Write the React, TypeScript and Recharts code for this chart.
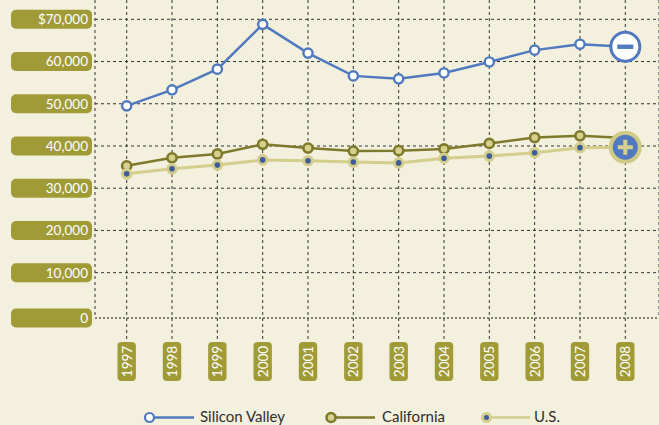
import React from 'react';
import { LineChart, Line, XAxis, YAxis, CartesianGrid, ReferenceLine } from 'recharts';

const years = ['1997', '1998', '1999', '2000', '2001', '2002', '2003', '2004', '2005', '2006', '2007', '2008'];
const siliconValley = [49500, 53300, 58200, 68800, 62000, 56600, 55900, 57300, 59900, 62700, 64100, 63500];
const california = [35300, 37200, 38100, 40400, 39500, 38800, 38900, 39300, 40600, 42000, 42400, 41900];
const us = [33400, 34600, 35500, 36700, 36500, 36200, 36000, 37100, 37600, 38400, 39600, 39700];
const yTicks = [0, 10000, 20000, 30000, 40000, 50000, 60000, 70000];
const yTickLabels = ['0', '10,000', '20,000', '30,000', '40,000', '50,000', '60,000', '$70,000'];
const seriesNames = ['Silicon Valley', 'California', 'U.S.'];

const data = years.map((y, i) => ({ year: y, sv: siliconValley[i], ca: california[i], us: us[i] }));

const BG = '#f3f0de';
const PILL = '#a09b37';
const BLUE = '#5079bf';
const OLIVE = '#7f7a2b';
const OLIVE_LIGHT = '#d6d18f';
const US_LINE = '#d3ce8c';
const US_DOT = '#3d5c99';
const GRID = '#333';
const FONT = 'Lato, "Open Sans", sans-serif';
const PLOT_BOTTOM = 318;

const YTick = (props: any) => {
  const { y, payload } = props;
  const v = payload.value;
  const cy = v === 0 ? PLOT_BOTTOM : y;
  const idx = yTicks.indexOf(v);
  return (
    <g>
      <rect x={11} y={cy - 9.5} width={81} height={19} rx={5} fill={PILL} />
      <text x={88} y={cy} dy="0.36em" textAnchor="end" fill="#fff" fontSize={13.5} fontFamily={FONT}>
        {yTickLabels[idx]}
      </text>
    </g>
  );
};

const XTick = (props: any) => {
  const { x, payload } = props;
  const top = PLOT_BOTTOM + 24;
  const h = 39;
  const cy = top + h / 2;
  return (
    <g>
      <line x1={x} x2={x} y1={PLOT_BOTTOM} y2={top} stroke={GRID} strokeDasharray="3 3" />
      <rect x={x - 9.2} y={top} width={18.4} height={h} rx={4} fill={PILL} />
      <text
        x={x}
        y={cy}
        dy="0.36em"
        textAnchor="middle"
        fill="#fff"
        fontSize={13.5}
        fontFamily={FONT}
        transform={`rotate(-90, ${x}, ${cy})`}
      >
        {payload.value}
      </text>
    </g>
  );
};

const last = years.length - 1;

const svDot = (p: any) => {
  const { cx, cy, index } = p;
  if (index === last) {
    return (
      <g key={`sv-${index}`}>
        <circle cx={cx} cy={cy} r={14.5} fill="#fff" stroke={BLUE} strokeWidth={3} />
        <rect x={cx - 8} y={cy - 2.2} width={16} height={4.4} fill={BLUE} />
      </g>
    );
  }
  return <circle key={`sv-${index}`} cx={cx} cy={cy} r={4.6} fill="#fff" stroke={BLUE} strokeWidth={2.4} />;
};

const caDot = (p: any) => {
  const { cx, cy, index } = p;
  if (index === last) return <g key={`ca-${index}`} />;
  return <circle key={`ca-${index}`} cx={cx} cy={cy} r={4.6} fill={OLIVE_LIGHT} stroke={OLIVE} strokeWidth={2.6} />;
};

const usDot = (p: any) => {
  const { cx, cy, index } = p;
  if (index === last) {
    return (
      <g key={`us-${index}`}>
        <circle cx={cx} cy={cy} r={14.5} fill={BLUE} stroke="#cfca86" strokeWidth={4} />
        <rect x={cx - 7.5} y={cy - 2} width={15} height={4} fill="#d6d18f" />
        <rect x={cx - 2} y={cy - 7.5} width={4} height={15} fill="#d6d18f" />
      </g>
    );
  }
  return <circle key={`us-${index}`} cx={cx} cy={cy} r={4.3} fill={US_DOT} stroke={US_LINE} strokeWidth={3} />;
};

const Legend = () => {
  const items = [
    { name: seriesNames[0], cx: 149.5, lineEnd: 194, tx: 200, line: BLUE, fill: '#fff', stroke: BLUE, r: 4.5, sw: 2.2 },
    { name: seriesNames[1], cx: 331, lineEnd: 375, tx: 382, line: OLIVE, fill: OLIVE_LIGHT, stroke: OLIVE, r: 4.5, sw: 2.6 },
    { name: seriesNames[2], cx: 486.5, lineEnd: 530, tx: 534, line: US_LINE, fill: US_DOT, stroke: US_LINE, r: 4, sw: 3 },
  ];
  return (
    <svg width={659} height={425} style={{ position: 'absolute', left: 0, top: 0, pointerEvents: 'none' }}>
      {items.map((it) => (
        <g key={it.name}>
          <line x1={it.cx} x2={it.lineEnd} y1={417.5} y2={417.5} stroke={it.line} strokeWidth={2.5} />
          <circle cx={it.cx} cy={417.5} r={it.r} fill={it.fill} stroke={it.stroke} strokeWidth={it.sw} />
          <text x={it.tx} y={422} fontSize={15} fill="#2e2e2e" fontFamily={FONT}>
            {it.name}
          </text>
        </g>
      ))}
    </svg>
  );
};

export default function App() {
  return (
    <div style={{ position: 'absolute', left: 0, top: 0, width: 659, height: 425, background: BG, overflow: 'hidden' }}>
      <LineChart width={659} height={425} data={data} margin={{ top: 0, right: 0, left: 0, bottom: 37 }}>
        <CartesianGrid horizontal={false} vertical={true} stroke={GRID} strokeDasharray="3 3" />
        {yTicks.filter((t) => t > 0).map((t) => (
          <ReferenceLine key={t} y={t} stroke={GRID} strokeDasharray="3 3" />
        ))}
        <XAxis
          dataKey="year"
          type="category"
          padding={{ left: 31.7, right: 33.7 }}
          height={70}
          axisLine={{ stroke: '#111', strokeDasharray: '2 2' }}
          tickLine={false}
          tick={<XTick />}
          interval={0}
        />
        <YAxis
          type="number"
          domain={[-734, 74570]}
          ticks={yTicks}
          width={95}
          axisLine={false}
          tickLine={false}
          tick={<YTick />}
          allowDataOverflow={true}
        />
        <Line dataKey="sv" stroke={BLUE} strokeWidth={2.5} dot={svDot} activeDot={false} isAnimationActive={false} />
        <Line dataKey="ca" stroke={OLIVE} strokeWidth={2.5} dot={caDot} activeDot={false} isAnimationActive={false} />
        <Line dataKey="us" stroke={US_LINE} strokeWidth={3} dot={usDot} activeDot={false} isAnimationActive={false} />
      </LineChart>
      <Legend />
    </div>
  );
}
